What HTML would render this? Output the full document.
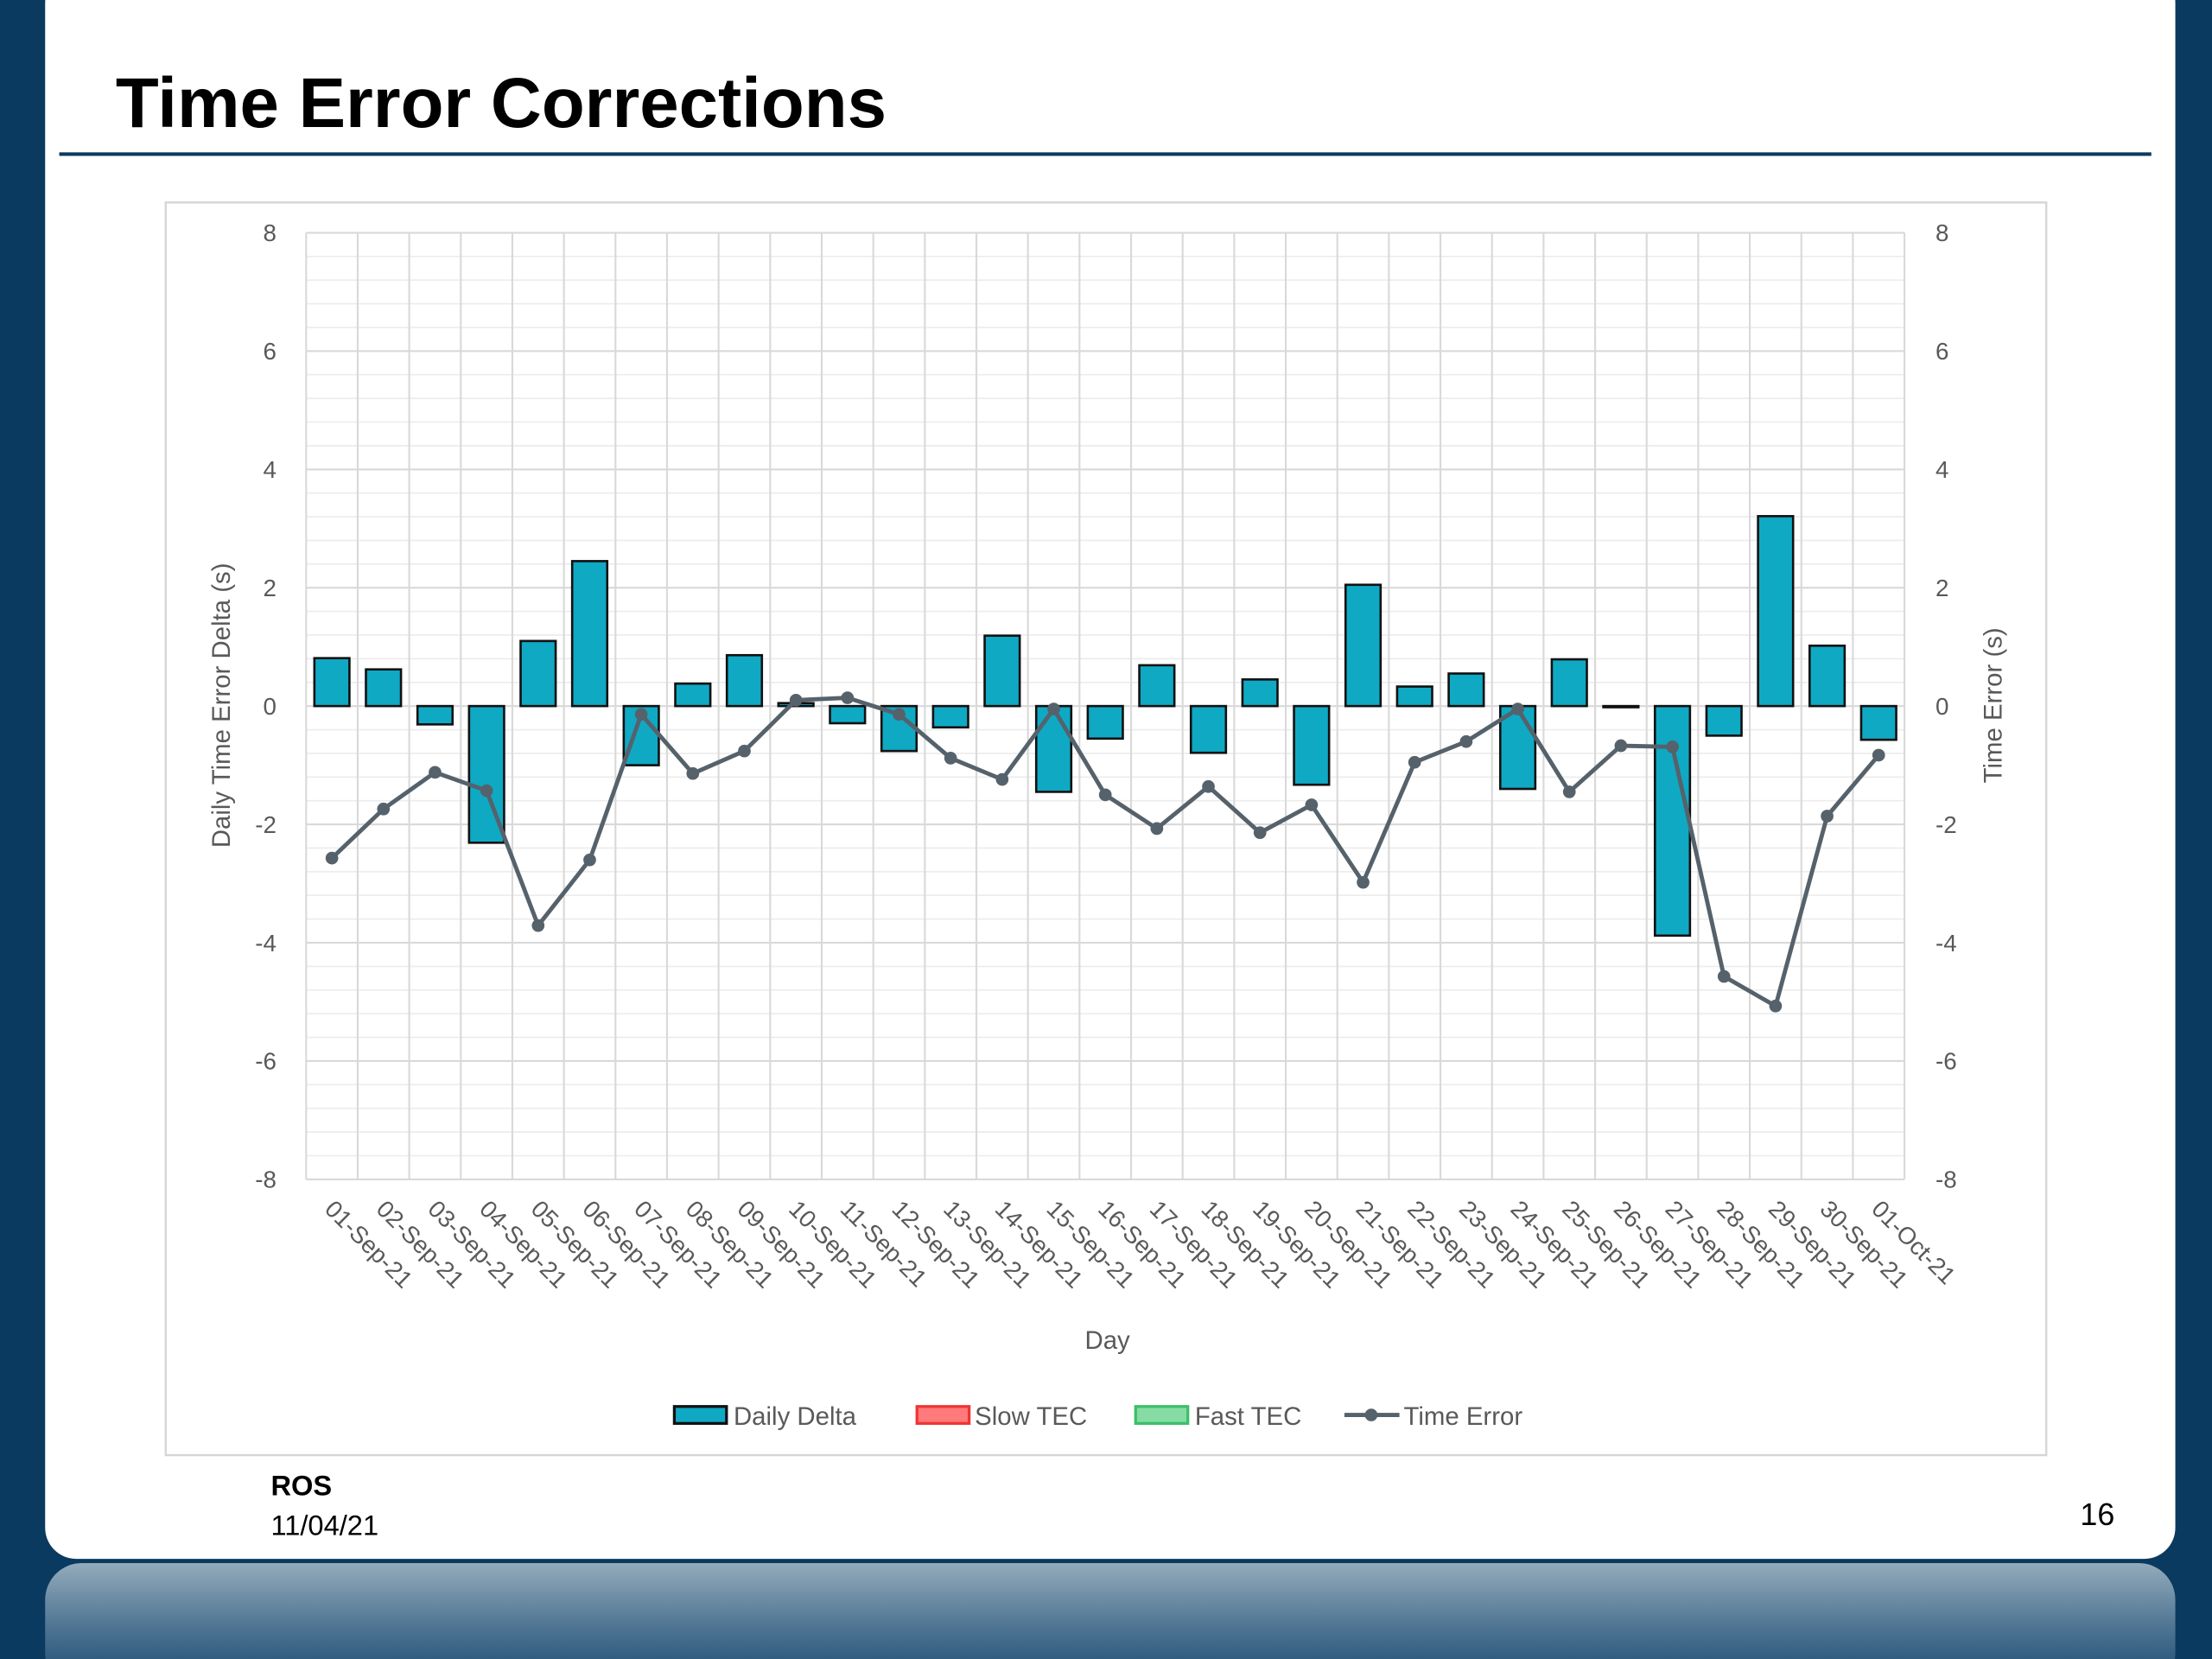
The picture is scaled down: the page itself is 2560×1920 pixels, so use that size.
<!DOCTYPE html>
<html><head><meta charset="utf-8"><style>
html,body{margin:0;padding:0;background:#0b3a60;}
svg{display:block;font-family:"Liberation Sans",sans-serif;}
</style></head><body>
<svg id="slide" width="2560" height="1920" viewBox="0 0 1568 1176" xmlns="http://www.w3.org/2000/svg">
<defs>
<linearGradient id="bottomGrad" x1="0" y1="0" x2="0" y2="1">
<stop offset="0" stop-color="#93abbb"/><stop offset="0.5" stop-color="#4f7593"/><stop offset="1" stop-color="#15456c"/>
</linearGradient>
</defs>
<rect x="0" y="0" width="1568" height="1176" fill="#0b3a60"/>
<rect x="32" y="-20" width="1510" height="1125" rx="22" fill="#ffffff"/>
<rect x="32" y="1108" width="1510" height="90" rx="26" fill="url(#bottomGrad)"/>
<text x="82" y="90" font-size="50" font-weight="bold" fill="#000">Time Error Corrections</text>
<rect x="42" y="108" width="1483" height="2.5" fill="#0b3a60"/>
<rect x="117.5" y="143.5" width="1333" height="888" fill="#fff" stroke="#d6d6d6" stroke-width="1.5"/>
<g id="grid"></g>
<g id="bars"></g>
<g id="line"></g>
<g id="axes"></g>
<text x="0" y="0" transform="translate(163,500) rotate(-90)" text-anchor="middle" font-size="18" fill="#595959">Daily Time Error Delta (s)</text>
<text x="0" y="0" transform="translate(1419,500) rotate(-90)" text-anchor="middle" font-size="18" fill="#595959">Time Error (s)</text>
<text x="785" y="956" text-anchor="middle" font-size="18" fill="#595959">Day</text>
<g font-size="18" fill="#595959">
<g><rect x="478" y="997" width="37" height="12" fill="#0fa9c4" stroke="#111" stroke-width="2"/><text x="520" y="1010">Daily Delta</text></g>
<g><rect x="650" y="997" width="37" height="12" fill="#ff7a7a" stroke="#f03434" stroke-width="2"/><text x="691" y="1010">Slow TEC</text></g>
<g><rect x="805" y="997" width="37" height="12" fill="#86dca4" stroke="#3cbf6a" stroke-width="2"/><text x="847" y="1010">Fast TEC</text></g>
<g><line x1="953" y1="1003" x2="992" y2="1003" stroke="#56626b" stroke-width="3"/><circle cx="972" cy="1003" r="4.5" fill="#56626b"/><text x="995" y="1010">Time Error</text></g>
</g>
<text x="192" y="1060" font-size="20" font-weight="bold" fill="#000">ROS</text>
<text x="192" y="1088" font-size="20" fill="#000">11/04/21</text>
<text x="1499" y="1081" text-anchor="end" font-size="22" fill="#000">16</text>
</svg>
<script>
const categories = ["01-Sep-21","02-Sep-21","03-Sep-21","04-Sep-21","05-Sep-21","06-Sep-21","07-Sep-21","08-Sep-21","09-Sep-21","10-Sep-21","11-Sep-21","12-Sep-21","13-Sep-21","14-Sep-21","15-Sep-21","16-Sep-21","17-Sep-21","18-Sep-21","19-Sep-21","20-Sep-21","21-Sep-21","22-Sep-21","23-Sep-21","24-Sep-21","25-Sep-21","26-Sep-21","27-Sep-21","28-Sep-21","29-Sep-21","30-Sep-21","01-Oct-21"];
const dailyDelta = [0.81,0.62,-0.31,-2.31,1.1,2.45,-1.0,0.38,0.86,0.05,-0.29,-0.76,-0.36,1.19,-1.45,-0.55,0.69,-0.79,0.45,-1.33,2.05,0.33,0.55,-1.4,0.79,-0.02,-3.88,-0.5,3.21,1.02,-0.57];
const timeError = [-2.57,-1.74,-1.12,-1.43,-3.71,-2.6,-0.14,-1.14,-0.76,0.1,0.14,-0.14,-0.88,-1.24,-0.05,-1.5,-2.07,-1.36,-2.14,-1.67,-2.98,-0.95,-0.6,-0.05,-1.45,-0.67,-0.69,-4.57,-5.07,-1.86,-0.83];
const yTicks = [8,6,4,2,0,-2,-4,-6,-8];

const NS = "http://www.w3.org/2000/svg";
const PL = 217, PR = 1350, PT = 165, PB = 836, YMIN = -8, YMAX = 8;
const colW = (PR - PL) / categories.length;
function xC(i){ return PL + colW * (i + 0.5); }
function yS(v){ return PT + (YMAX - v) / (YMAX - YMIN) * (PB - PT); }
function mk(tag, attrs, parent){ const e = document.createElementNS(NS, tag); for (const k in attrs) e.setAttribute(k, attrs[k]); parent.appendChild(e); return e; }

const grid = document.getElementById('grid');
for (let v = YMIN; v <= YMAX + 1e-9; v += 0.4) {
  const major = Math.abs(v / 2 - Math.round(v / 2)) < 1e-6;
  const l = mk('line', {x1: PL, x2: PR, y1: yS(v), y2: yS(v), stroke: major ? '#d9d9d9' : '#ececec', 'stroke-width': major ? 1.3 : 1}, grid);
  
  
}
for (let i = 0; i <= categories.length; i++) {
  const x = PL + colW * i;
  const l = mk('line', {x1: x, x2: x, y1: PT, y2: PB, stroke: '#d9d9d9', 'stroke-width': 1.3}, grid);
  
  
}

const bars = document.getElementById('bars');
const bw = colW * 0.68;
dailyDelta.forEach((v, i) => {
  const y0 = yS(0), y1 = yS(v);
  const r = mk('rect', {x: xC(i) - bw / 2, y: Math.min(y0, y1), width: bw, height: Math.max(Math.abs(y1 - y0), 0.5), fill: '#0fa9c4', stroke: '#111', 'stroke-width': 1.6}, bars);
  
  
});

const line = document.getElementById('line');
const pts = timeError.map((v, i) => xC(i) + ',' + yS(v)).join(' ');
const pl = mk('polyline', {points: pts, fill: 'none', stroke: '#56626b', 'stroke-width': 3, 'stroke-linejoin': 'round'}, line);


timeError.forEach((v, i) => {
  const c = mk('circle', {cx: xC(i), cy: yS(v), r: 4.5, fill: '#56626b'}, line);
  
  
});

const axes = document.getElementById('axes');
yTicks.forEach(v => {
  const t = mk('text', {x: 196, y: yS(v) + 6, 'text-anchor': 'end', 'font-size': 17, fill: '#595959'}, axes);
  t.textContent = v;
  
  
  const t2 = mk('text', {x: 1372, y: yS(v) + 6, 'text-anchor': 'start', 'font-size': 17, fill: '#595959'}, axes);
  t2.textContent = v;
  
  
});
categories.forEach((c, i) => {
  const t = mk('text', {x: 0, y: 0, transform: 'translate(' + (xC(i) - 6) + ',' + 858 + ') rotate(45)', 'text-anchor': 'start', 'font-size': 17, fill: '#595959'}, axes);
  t.textContent = c;
  
  
});
</script>
</body></html>
